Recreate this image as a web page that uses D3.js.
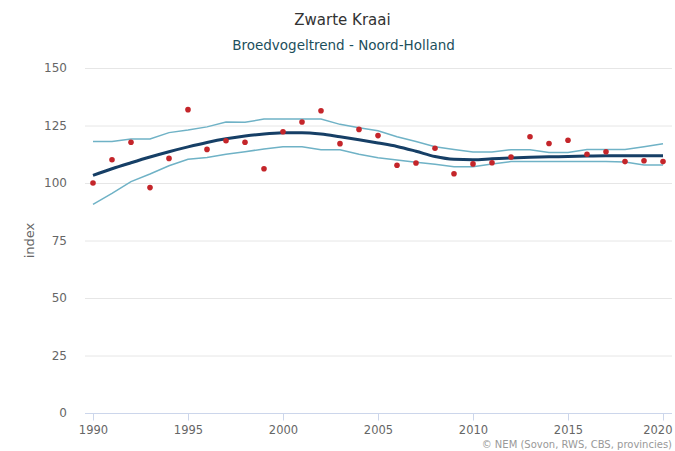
<!DOCTYPE html>
<html>
<head>
<meta charset="utf-8">
<script src="https://cdn.jsdelivr.net/npm/d3@7"></script>
<style>
  body { margin: 0; background: #fff; }
  svg { font-family: "DejaVu Sans", Verdana, sans-serif; }
</style>
</head>
<body>
<div id="chart"></div>
<script>
// jaren en indexwaarden
var years = d3.range(1990, 2021);
var counts = [100, 110.1, 117.7, 98, 110.7, 131.9, 114.6, 118.4, 117.7, 106.2,
              122.3, 126.5, 131.4, 117.1, 123.3, 120.6, 107.7, 108.7, 115.1, 104,
              108.3, 108.8, 111.3, 120.1, 117.2, 118.6, 112.5, 113.6, 109.3, 109.7, 109.3];
var trend = [103.3, 106.2, 108.8, 111.3, 113.6, 115.7, 117.6, 119.2, 120.4, 121.3,
             121.8, 121.9, 121.3, 120.1, 118.8, 117.4, 115.9, 113.8, 111.5, 110.3,
             110.1, 110.5, 110.9, 111.2, 111.4, 111.5, 111.7, 111.8, 111.8, 111.8, 111.8];
var upper = [118, 118, 119.1, 119.1, 121.9, 123, 124.4, 126.5, 126.4, 127.8,
             127.8, 127.8, 127.8, 125.5, 124, 122.7, 120.1, 118, 115.8, 114.6,
             113.5, 113.5, 114.5, 114.5, 113.3, 113.3, 114.6, 114.6, 114.6, 115.8, 117.1];
var lower = [90.7, 95.5, 100.6, 103.9, 107.5, 110.3, 111.1, 112.5, 113.6, 114.8,
             115.8, 115.8, 114.5, 114.5, 112.5, 111, 110, 109, 108.1, 107.1,
             107.1, 108.3, 109.3, 109.3, 109.3, 109.3, 109.3, 109.3, 109.1, 107.8, 107.8];
var yTicks = [0, 25, 50, 75, 100, 125, 150];
var xTicks = [1990, 1995, 2000, 2005, 2010, 2015, 2020];

var width = 675, height = 451;
var plotLeft = 85, plotRight = 672, plotTop = 68, plotBottom = 413;

var svg = d3.select("#chart").append("svg")
    .attr("width", width)
    .attr("height", height);

var x = d3.scaleLinear().domain([1990, 2020]).range([93, 663]);
var y = d3.scaleLinear().domain([0, 150]).range([plotBottom, plotTop]);

// titels
svg.append("text")
    .attr("x", width / 2 + 5).attr("y", 25)
    .attr("text-anchor", "middle")
    .style("font-size", "15px").style("fill", "#333")
    .text("Zwarte Kraai");
svg.append("text")
    .attr("x", width / 2 + 6).attr("y", 50)
    .attr("text-anchor", "middle")
    .style("font-size", "13.5px").style("fill", "#1c4f5c")
    .text("Broedvogeltrend - Noord-Holland");

// rasterlijnen
svg.append("g").selectAll("line")
    .data(yTicks.filter(function(d) { return d > 0; }))
    .enter().append("line")
    .attr("x1", plotLeft).attr("x2", plotRight)
    .attr("y1", function(d) { return y(d) + 0.5; })
    .attr("y2", function(d) { return y(d) + 0.5; })
    .attr("stroke", "#e6e6e6");

// y-as labels
svg.append("g").selectAll("text")
    .data(yTicks)
    .enter().append("text")
    .attr("x", 67).attr("y", function(d) { return y(d) + 4; })
    .attr("text-anchor", "end")
    .style("font-size", "12px").style("fill", "#666")
    .text(function(d) { return d; });

svg.append("text")
    .attr("transform", "translate(34," + y(75) + ") rotate(-90)")
    .attr("text-anchor", "middle")
    .style("font-size", "13px").style("fill", "#666")
    .text("index");

// x-as
var xAxis = svg.append("g")
    .attr("transform", "translate(0," + (plotBottom + 0.5) + ")")
    .call(d3.axisBottom(x).tickValues(xTicks).tickFormat(d3.format("d")).tickSize(7).tickPadding(5));
xAxis.select(".domain").attr("stroke", "#ccd6eb").attr("d", "M" + plotLeft + ",0H" + plotRight);
xAxis.selectAll(".tick line").attr("stroke", "#ccd6eb");
xAxis.selectAll(".tick text")
    .style("font-size", "11.5px").style("fill", "#666")
    .style("font-family", "\"DejaVu Sans\", Verdana, sans-serif");
// laatste label binnen de rand houden
xAxis.selectAll(".tick text")
    .filter(function(d) { return d === 2020; })
    .attr("text-anchor", "end")
    .attr("x", plotRight - x(2020));

// lijnen
var line = d3.line()
    .x(function(d, i) { return x(years[i]); })
    .y(function(d) { return y(d); });
var smooth = d3.line()
    .x(function(d, i) { return x(years[i]); })
    .y(function(d) { return y(d); })
    .curve(d3.curveMonotoneX);

svg.append("path").datum(upper)
    .attr("d", line).attr("fill", "none")
    .attr("stroke", "#6fb2c6").attr("stroke-width", 1.5);
svg.append("path").datum(lower)
    .attr("d", line).attr("fill", "none")
    .attr("stroke", "#6fb2c6").attr("stroke-width", 1.5);
svg.append("path").datum(trend)
    .attr("d", smooth).attr("fill", "none")
    .attr("stroke", "#163f66").attr("stroke-width", 3);

// telpunten
svg.append("g").selectAll("circle")
    .data(counts)
    .enter().append("circle")
    .attr("cx", function(d, i) { return x(years[i]); })
    .attr("cy", function(d) { return y(d); })
    .attr("r", 2.8)
    .attr("fill", "#c4252a");

// bronvermelding
svg.append("text")
    .attr("x", 672).attr("y", 448)
    .attr("text-anchor", "end")
    .style("font-size", "10px").style("fill", "#999")
    .text("© NEM (Sovon, RWS, CBS, provincies)");
</script>
</body>
</html>
